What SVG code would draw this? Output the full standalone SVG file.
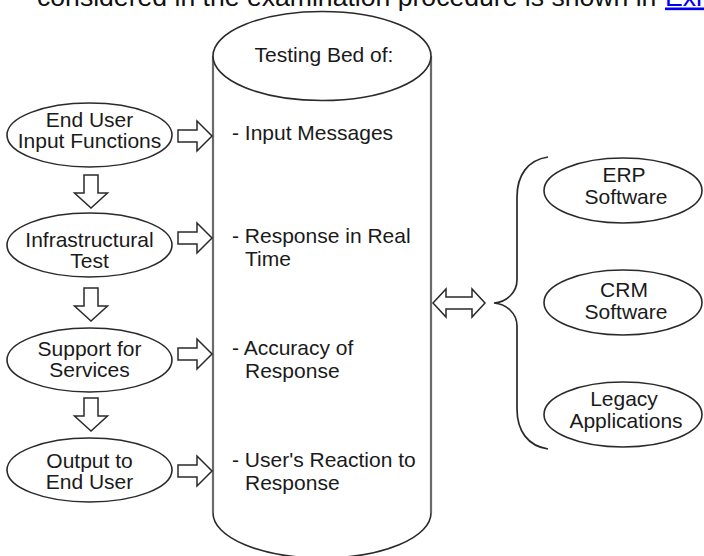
<svg xmlns="http://www.w3.org/2000/svg" width="704" height="556" viewBox="0 0 704 556">
  <style>
    .t { font-family: "Liberation Sans", Arial, sans-serif; font-size: 21px; fill: #1a1a1a; }
    .c { text-anchor: middle; }
    .shape { fill: #fff; stroke: #2a2a2a; stroke-width: 1.6; }
    .side { fill: none; stroke: #6a6a6a; stroke-width: 2.2; }
    .arrow { fill: #fff; stroke: #2a2a2a; stroke-width: 1.5; stroke-linejoin: miter; }
    .brace { fill: none; stroke: #2a2a2a; stroke-width: 1.7; }
  </style>
  <rect width="704" height="556" fill="#fff"/>

  <text x="37" y="5.5" font-family="Liberation Sans, Arial, sans-serif" font-size="26.6" fill="#111">considered in the examination procedure is shown in </text>
  <text x="665" y="5.5" font-family="Liberation Sans, Arial, sans-serif" font-size="26.6" fill="#0000ee" text-decoration="underline">Exh</text>

  <g id="testing-bed">
    <path d="M213,56 L213,513 A109,45 0 0 0 431,513 L431,56" fill="#fff" stroke="none"/>
    <path class="side" d="M213,56 L213,513"/>
    <path class="side" d="M431,56 L431,513"/>
    <path d="M213,513 A109,45 0 0 0 431,513" fill="none" stroke="#2a2a2a" stroke-width="1.6"/>
    <ellipse class="shape" cx="322" cy="56" rx="109" ry="44.5"/>
    <text class="t c" x="324" y="62">Testing Bed of:</text>
    <text class="t" x="232" y="140">- Input Messages</text>
    <text class="t" x="232" y="243">- Response in Real</text>
    <text class="t" x="245" y="266">Time</text>
    <text class="t" x="232" y="355">- Accuracy of</text>
    <text class="t" x="245" y="378">Response</text>
    <text class="t" x="232" y="467">- User's Reaction to</text>
    <text class="t" x="245" y="490">Response</text>
  </g>

  <g id="end-user-input">
    <ellipse class="shape" cx="89.5" cy="135" rx="82.5" ry="32"/>
    <text class="t c" x="89.5" y="127">End User</text>
    <text class="t c" x="89.5" y="148">Input Functions</text>
  </g>
  <g id="infrastructural-test">
    <ellipse class="shape" cx="89.5" cy="245" rx="82.5" ry="32"/>
    <text class="t c" x="89.5" y="247">Infrastructural</text>
    <text class="t c" x="89.5" y="268">Test</text>
  </g>
  <g id="support-services">
    <ellipse class="shape" cx="89.5" cy="360" rx="82.5" ry="32"/>
    <text class="t c" x="89.5" y="356">Support for</text>
    <text class="t c" x="89.5" y="377">Services</text>
  </g>
  <g id="output-end-user">
    <ellipse class="shape" cx="89.5" cy="470" rx="82.5" ry="32"/>
    <text class="t c" x="89.5" y="468">Output to</text>
    <text class="t c" x="89.5" y="489">End User</text>
  </g>

  <g id="erp-software">
    <ellipse class="shape" cx="623" cy="190.5" rx="79" ry="32.5"/>
    <text class="t c" x="624" y="182">ERP</text>
    <text class="t c" x="626" y="204">Software</text>
  </g>
  <g id="crm-software">
    <ellipse class="shape" cx="623" cy="302.5" rx="79" ry="32.5"/>
    <text class="t c" x="624" y="297">CRM</text>
    <text class="t c" x="626" y="319">Software</text>
  </g>
  <g id="legacy-applications">
    <ellipse class="shape" cx="623" cy="414.5" rx="79" ry="32.5"/>
    <text class="t c" x="624" y="406">Legacy</text>
    <text class="t c" x="626" y="428">Applications</text>
  </g>

  <g id="connectors">
    <path class="arrow" d="M178,130 L197,130 L197,121 L212,136 L197,151 L197,142 L178,142 Z"/>
    <path class="arrow" d="M178,232 L197,232 L197,223 L212,238 L197,253 L197,244 L178,244 Z"/>
    <path class="arrow" d="M178,348 L197,348 L197,339 L212,354 L197,369 L197,360 L178,360 Z"/>
    <path class="arrow" d="M178,465 L197,465 L197,456 L212,471 L197,486 L197,477 L178,477 Z"/>

    <path class="arrow" d="M84,175 L98,175 L98,193 L107.5,193 L91,208 L74.5,193 L84,193 Z"/>
    <path class="arrow" d="M84,288 L98,288 L98,306 L107.5,306 L91,321 L74.5,306 L84,306 Z"/>
    <path class="arrow" d="M84,398 L98,398 L98,416 L107.5,416 L91,431 L74.5,416 L84,416 Z"/>

    <path class="arrow" d="M433,303 L446,289 L446,297 L472,297 L472,289 L485,303 L472,317 L472,309 L446,309 L446,317 Z"/>
    <path class="brace" d="M548,157 C528,160 517,175 517,197 L517,280 C517,293 506,302 494,303 C506,304 517,313 517,326 L517,409 C517,431 528,446 548,449"/>
  </g>
</svg>
